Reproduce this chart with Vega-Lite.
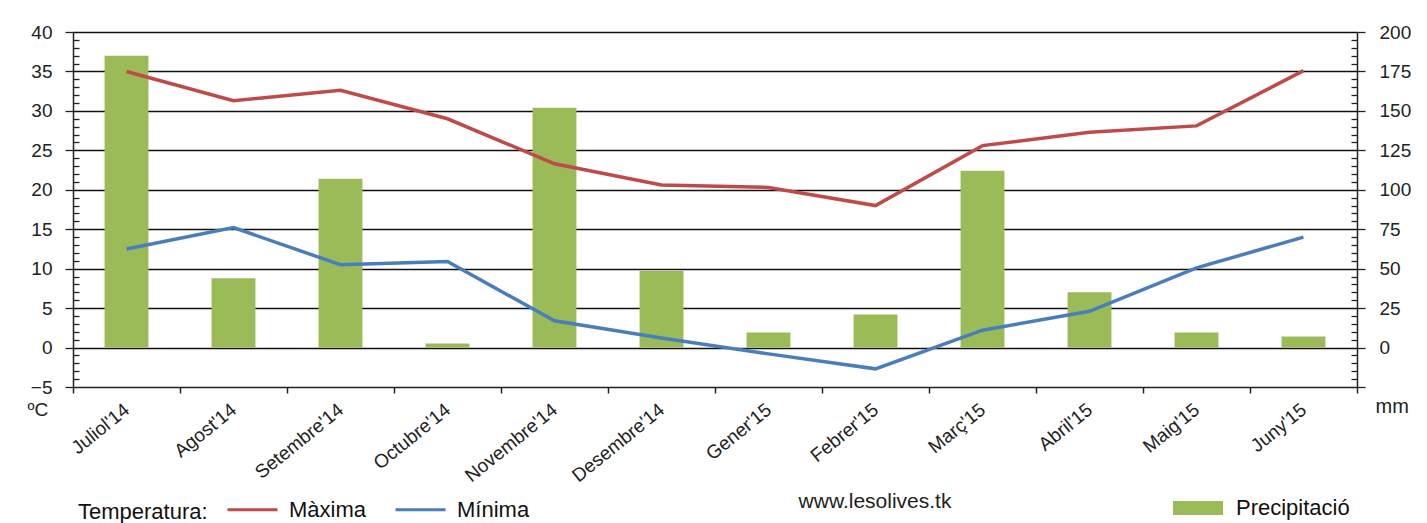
{
  "$schema": "https://vega.github.io/schema/vega-lite/v6.json",
  "width": 1284,
  "height": 355,
  "autosize": "none",
  "padding": {"left": 73, "top": 32, "right": 70, "bottom": 136},
  "background": "white",
  "data": {
    "values": [
      {"mes": "Juliol'14", "Màxima": 35.0, "Mínima": 12.5, "precip": 185},
      {"mes": "Agost'14", "Màxima": 31.3, "Mínima": 15.2, "precip": 44},
      {"mes": "Setembre'14", "Màxima": 32.6, "Mínima": 10.5, "precip": 107},
      {"mes": "Octubre'14", "Màxima": 29.0, "Mínima": 10.9, "precip": 2.5},
      {"mes": "Novembre'14", "Màxima": 23.3, "Mínima": 3.4, "precip": 152},
      {"mes": "Desembre'14", "Màxima": 20.6, "Mínima": 1.2, "precip": 48.5},
      {"mes": "Gener'15", "Màxima": 20.3, "Mínima": -0.8, "precip": 9.5},
      {"mes": "Febrer'15", "Màxima": 18.0, "Mínima": -2.7, "precip": 21},
      {"mes": "Març'15", "Màxima": 25.6, "Mínima": 2.2, "precip": 112},
      {"mes": "Abril'15", "Màxima": 27.3, "Mínima": 4.6, "precip": 35},
      {"mes": "Maig'15", "Màxima": 28.1, "Mínima": 10.1, "precip": 9.5},
      {"mes": "Juny'15", "Màxima": 35.1, "Mínima": 14.0, "precip": 7}
    ]
  },
  "title": {
    "text": "www.lesolives.tk",
    "orient": "bottom",
    "anchor": "middle",
    "dx": 160,
    "dy": -40,
    "offset": 8,
    "font": "Liberation Sans",
    "fontSize": 21,
    "fontWeight": "normal",
    "color": "#222"
  },
  "encoding": {
    "x": {
      "field": "mes",
      "type": "nominal",
      "sort": null,
      "scale": {"paddingInner": 0, "paddingOuter": 0},
      "axis": {
        "title": null,
        "labelAngle": -39,
        "labelAlign": "right",
        "labelBaseline": "middle",
        "labelFont": "Liberation Sans",
        "labelFontSize": 19,
        "labelColor": "#222",
        "labelPadding": 14,
        "tickBand": "extent",
        "tickSize": 6,
        "tickColor": "#222",
        "tickWidth": 1.5,
        "domainColor": "#222",
        "domainWidth": 1.5,
        "grid": false
      }
    }
  },
  "layer": [
    {
      "mark": {"type": "bar", "width": {"band": 0.41}, "color": "#9BBB59"},
      "encoding": {
        "fill": {
          "datum": "Precipitació",
          "type": "nominal",
          "scale": {"range": ["#9BBB59"]},
          "legend": {
            "title": null,
            "orient": "none",
            "legendX": 1100,
            "legendY": 451,
            "symbolType": "M-1,-0.28H1V0.28H-1Z",
            "symbolSize": 2500,
            "symbolStrokeWidth": 0,
            "labelFont": "Liberation Sans",
            "labelFontSize": 22,
            "labelColor": "#111",
            "labelOffset": 13
          }
        },
        "y": {
          "field": "precip",
          "type": "quantitative",
          "scale": {"domain": [-25, 200], "nice": false, "zero": false},
          "axis": {
            "orient": "right",
            "title": "mm",
            "titleAngle": 0,
            "titleX": 18,
            "titleY": 384,
            "titleAlign": "left",
            "titleFont": "Liberation Sans",
            "titleFontSize": 20,
            "titleFontWeight": "normal",
            "titleColor": "#222",
            "values": [-25,-20,-15,-10,-5,0,5,10,15,20,25,30,35,40,45,50,55,60,65,70,75,80,85,90,95,100,105,110,115,120,125,130,135,140,145,150,155,160,165,170,175,180,185,190,195,200],
            "labelExpr": "(datum.value % 25 === 0 && datum.value >= 0) ? datum.label : ''",
            "tickSize": {"condition": {"test": "datum.value % 25 === 0", "value": 8}, "value": -6},
            "tickColor": "#222",
            "tickWidth": 1.3,
            "labelFont": "Liberation Sans",
            "labelFontSize": 19,
            "labelColor": "#222",
            "labelPadding": 14,
            "domainColor": "#222",
            "domainWidth": 1.5,
            "grid": false
          }
        }
      }
    },
    {
      "transform": [{"fold": ["Màxima", "Mínima"], "as": ["serie", "temp"]}],
      "mark": {"type": "line", "strokeWidth": 3.5},
      "encoding": {
        "y": {
          "field": "temp",
          "type": "quantitative",
          "scale": {"domain": [-5, 40], "nice": false, "zero": false},
          "axis": {
            "orient": "left",
            "title": "ºC",
            "titleAngle": 0,
            "titleX": -46,
            "titleY": 387,
            "titleAlign": "left",
            "titleFont": "Liberation Sans",
            "titleFontSize": 19,
            "titleFontWeight": "normal",
            "titleColor": "#222",
            "values": [-5,-4,-3,-2,-1,0,1,2,3,4,5,6,7,8,9,10,11,12,13,14,15,16,17,18,19,20,21,22,23,24,25,26,27,28,29,30,31,32,33,34,35,36,37,38,39,40],
            "labelExpr": "datum.value % 5 === 0 ? datum.label : ''",
            "tickSize": {"condition": {"test": "datum.value % 5 === 0", "value": 8}, "value": -6},
            "tickColor": "#222",
            "tickWidth": 1.3,
            "labelFont": "Liberation Sans",
            "labelFontSize": 19,
            "labelColor": "#222",
            "labelPadding": 13,
            "domainColor": "#222",
            "domainWidth": 1.5,
            "grid": true,
            "gridColor": "#111",
            "gridWidth": 1.5,
            "gridOpacity": {"condition": {"test": "datum.value % 5 === 0 && datum.value > -5", "value": 1}, "value": 0}
          }
        },
        "color": {
          "field": "serie",
          "type": "nominal",
          "scale": {"domain": ["Màxima", "Mínima"], "range": ["#BE4B48", "#4A7EBB"]},
          "legend": {
            "title": "Temperatura:",
            "titleOrient": "left",
            "titleAnchor": "middle",
            "titleBaseline": "top",
            "titleFont": "Liberation Sans",
            "titleFontSize": 22,
            "titleFontWeight": "normal",
            "titleColor": "#111",
            "titlePadding": 18,
            "orient": "none",
            "legendX": 5,
            "legendY": 451,
            "direction": "horizontal",
            "symbolType": "stroke",
            "symbolSize": 2500,
            "symbolStrokeWidth": 3,
            "labelFont": "Liberation Sans",
            "labelFontSize": 22,
            "labelColor": "#111",
            "labelOffset": 10,
            "columnPadding": 22
          }
        }
      }
    }
  ],
  "resolve": {"scale": {"y": "independent", "color": "independent"}},
  "config": {
    "view": {"stroke": null}
  }
}
